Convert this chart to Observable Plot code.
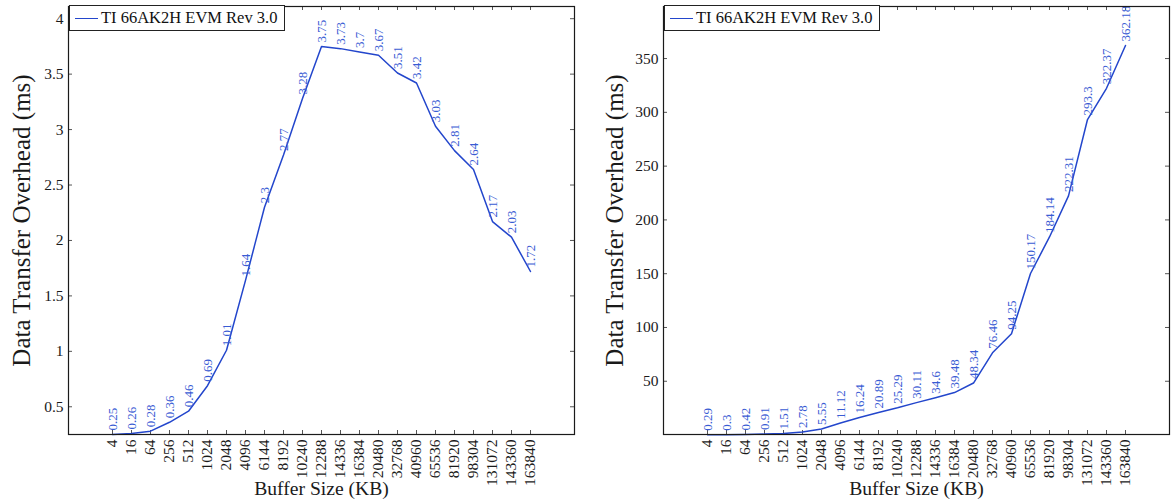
<!DOCTYPE html>
<html><head><meta charset="utf-8">
<script src="https://cdn.jsdelivr.net/npm/d3@7"></script>
<script src="https://cdn.jsdelivr.net/npm/@observablehq/plot@0.6"></script>
<style>
body{margin:0;background:#fff;}
#wrap{position:relative;width:1176px;height:502px;overflow:hidden;background:#fff;}
.panel{position:absolute;top:0;width:588px;height:502px;}
.panel svg{overflow:visible;}
.legend{position:absolute;top:5px;height:26px;border:1px solid #222;background:#fff;font-family:"Liberation Serif",serif;font-size:16.5px;color:#111;display:flex;align-items:center;padding:0 7px 0 5px;box-sizing:border-box;white-space:nowrap;}
.legend .sw{display:inline-block;width:23px;height:0;border-top:1.6px solid #2346cc;margin-right:3px;}
</style></head><body><div id="wrap"></div>
<script>
const bufferSizes = ["4","16","64","256","512","1024","2048","4096","6144","8192","10240","12288","14336","16384","20480","32768","40960","65536","81920","98304","131072","143360","163840"];
const overheadLeft = [0.25,0.26,0.28,0.36,0.46,0.69,1.01,1.64,2.3,2.77,3.28,3.75,3.73,3.7,3.67,3.51,3.42,3.03,2.81,2.64,2.17,2.03,1.72];
const overheadRight = [0.29,0.3,0.42,0.91,1.51,2.78,5.55,11.12,16.24,20.89,25.29,30.11,34.6,39.48,48.34,76.46,94.25,150.17,184.14,222.31,293.3,322.37,362.18];
const yTicksLeft = [0.5,1,1.5,2,2.5,3,3.5,4];
const yTicksRight = [50,100,150,200,250,300,350];
const seriesName = "TI 66AK2H EVM Rev 3.0";
const yLabel = "Data Transfer Overhead (ms)";
const xLabel = "Buffer Size (KB)";

const W = 588, H = 502, MT = 6, MB = 68;
const lineColor = "#2346cc", labelColor = "#3a5cd4", ink = "#1a1a1a", tickInk = "#555";
const serif = "'Liberation Serif', 'DejaVu Serif', serif";

function panel(values, yDomain, yTicks, ml, mr, pad, labelDx) {
  const data = bufferSizes.map((s, i) => ({size: s, value: values[i]}));
  const plotW = W - ml - mr, plotH = H - MT - MB;
  return Plot.plot({
    width: W, height: H,
    marginLeft: ml, marginRight: mr, marginTop: MT, marginBottom: MB,
    style: {fontFamily: serif, fontSize: "15.5px", color: ink, background: "transparent"},
    x: {type: "point", domain: bufferSizes, padding: pad, axis: null},
    y: {domain: yDomain, axis: null},
    marks: [
      Plot.axisX({anchor: "bottom", tickSize: 0, tickRotate: -90, tickPadding: 5, fontSize: 15.5, label: null}),
      Plot.axisY({anchor: "left", ticks: yTicks, tickFormat: d => String(d), tickSize: 0, tickPadding: 5, fontSize: 15.5, label: null}),
      Plot.ruleX(bufferSizes, {x: d => d, insetTop: plotH - 4, stroke: tickInk}),
      Plot.ruleX(bufferSizes, {x: d => d, insetBottom: plotH - 4, stroke: tickInk}),
      Plot.ruleY(yTicks, {y: d => d, insetRight: plotW - 4, stroke: tickInk}),
      Plot.ruleY(yTicks, {y: d => d, insetLeft: plotW - 4, stroke: tickInk}),
      Plot.lineY(data, {x: "size", y: "value", stroke: lineColor, strokeWidth: 1.5}),
      Plot.text(data, {x: "size", y: "value", text: d => String(d.value), rotate: -90, textAnchor: "start", lineAnchor: "middle", dy: -4, fill: labelColor, fontSize: 13}),
      Plot.frame({stroke: ink, strokeWidth: 1.2}),
      Plot.text([yLabel], {frameAnchor: "left", dx: labelDx, rotate: -90, text: d => d, fontSize: 25, fill: ink, textAnchor: "middle", lineAnchor: "middle"}),
      Plot.text([xLabel], {frameAnchor: "bottom", dy: 54, text: d => d, fontSize: 19.6, fill: ink, textAnchor: "middle", lineAnchor: "middle"})
    ]
  });
}

function addPanel(left, values, yDomain, yTicks, ml, mr, pad, labelDx) {
  const div = document.createElement("div");
  div.className = "panel";
  div.style.left = left + "px";
  div.appendChild(panel(values, yDomain, yTicks, ml, mr, pad, labelDx));
  const lg = document.createElement("div");
  lg.className = "legend";
  lg.style.left = (ml + 1) + "px";
  const sw = document.createElement("span"); sw.className = "sw";
  lg.appendChild(sw);
  lg.appendChild(document.createTextNode(seriesName));
  div.appendChild(lg);
  document.getElementById("wrap").appendChild(div);
}

addPanel(0, overheadLeft, [0.25, 4.11], yTicksLeft, 68, 14, 2.25, -47);
addPanel(588, overheadRight, [0.5, 398.4], yTicksRight, 75, 7, 2.2, -49);
</script></body></html>
